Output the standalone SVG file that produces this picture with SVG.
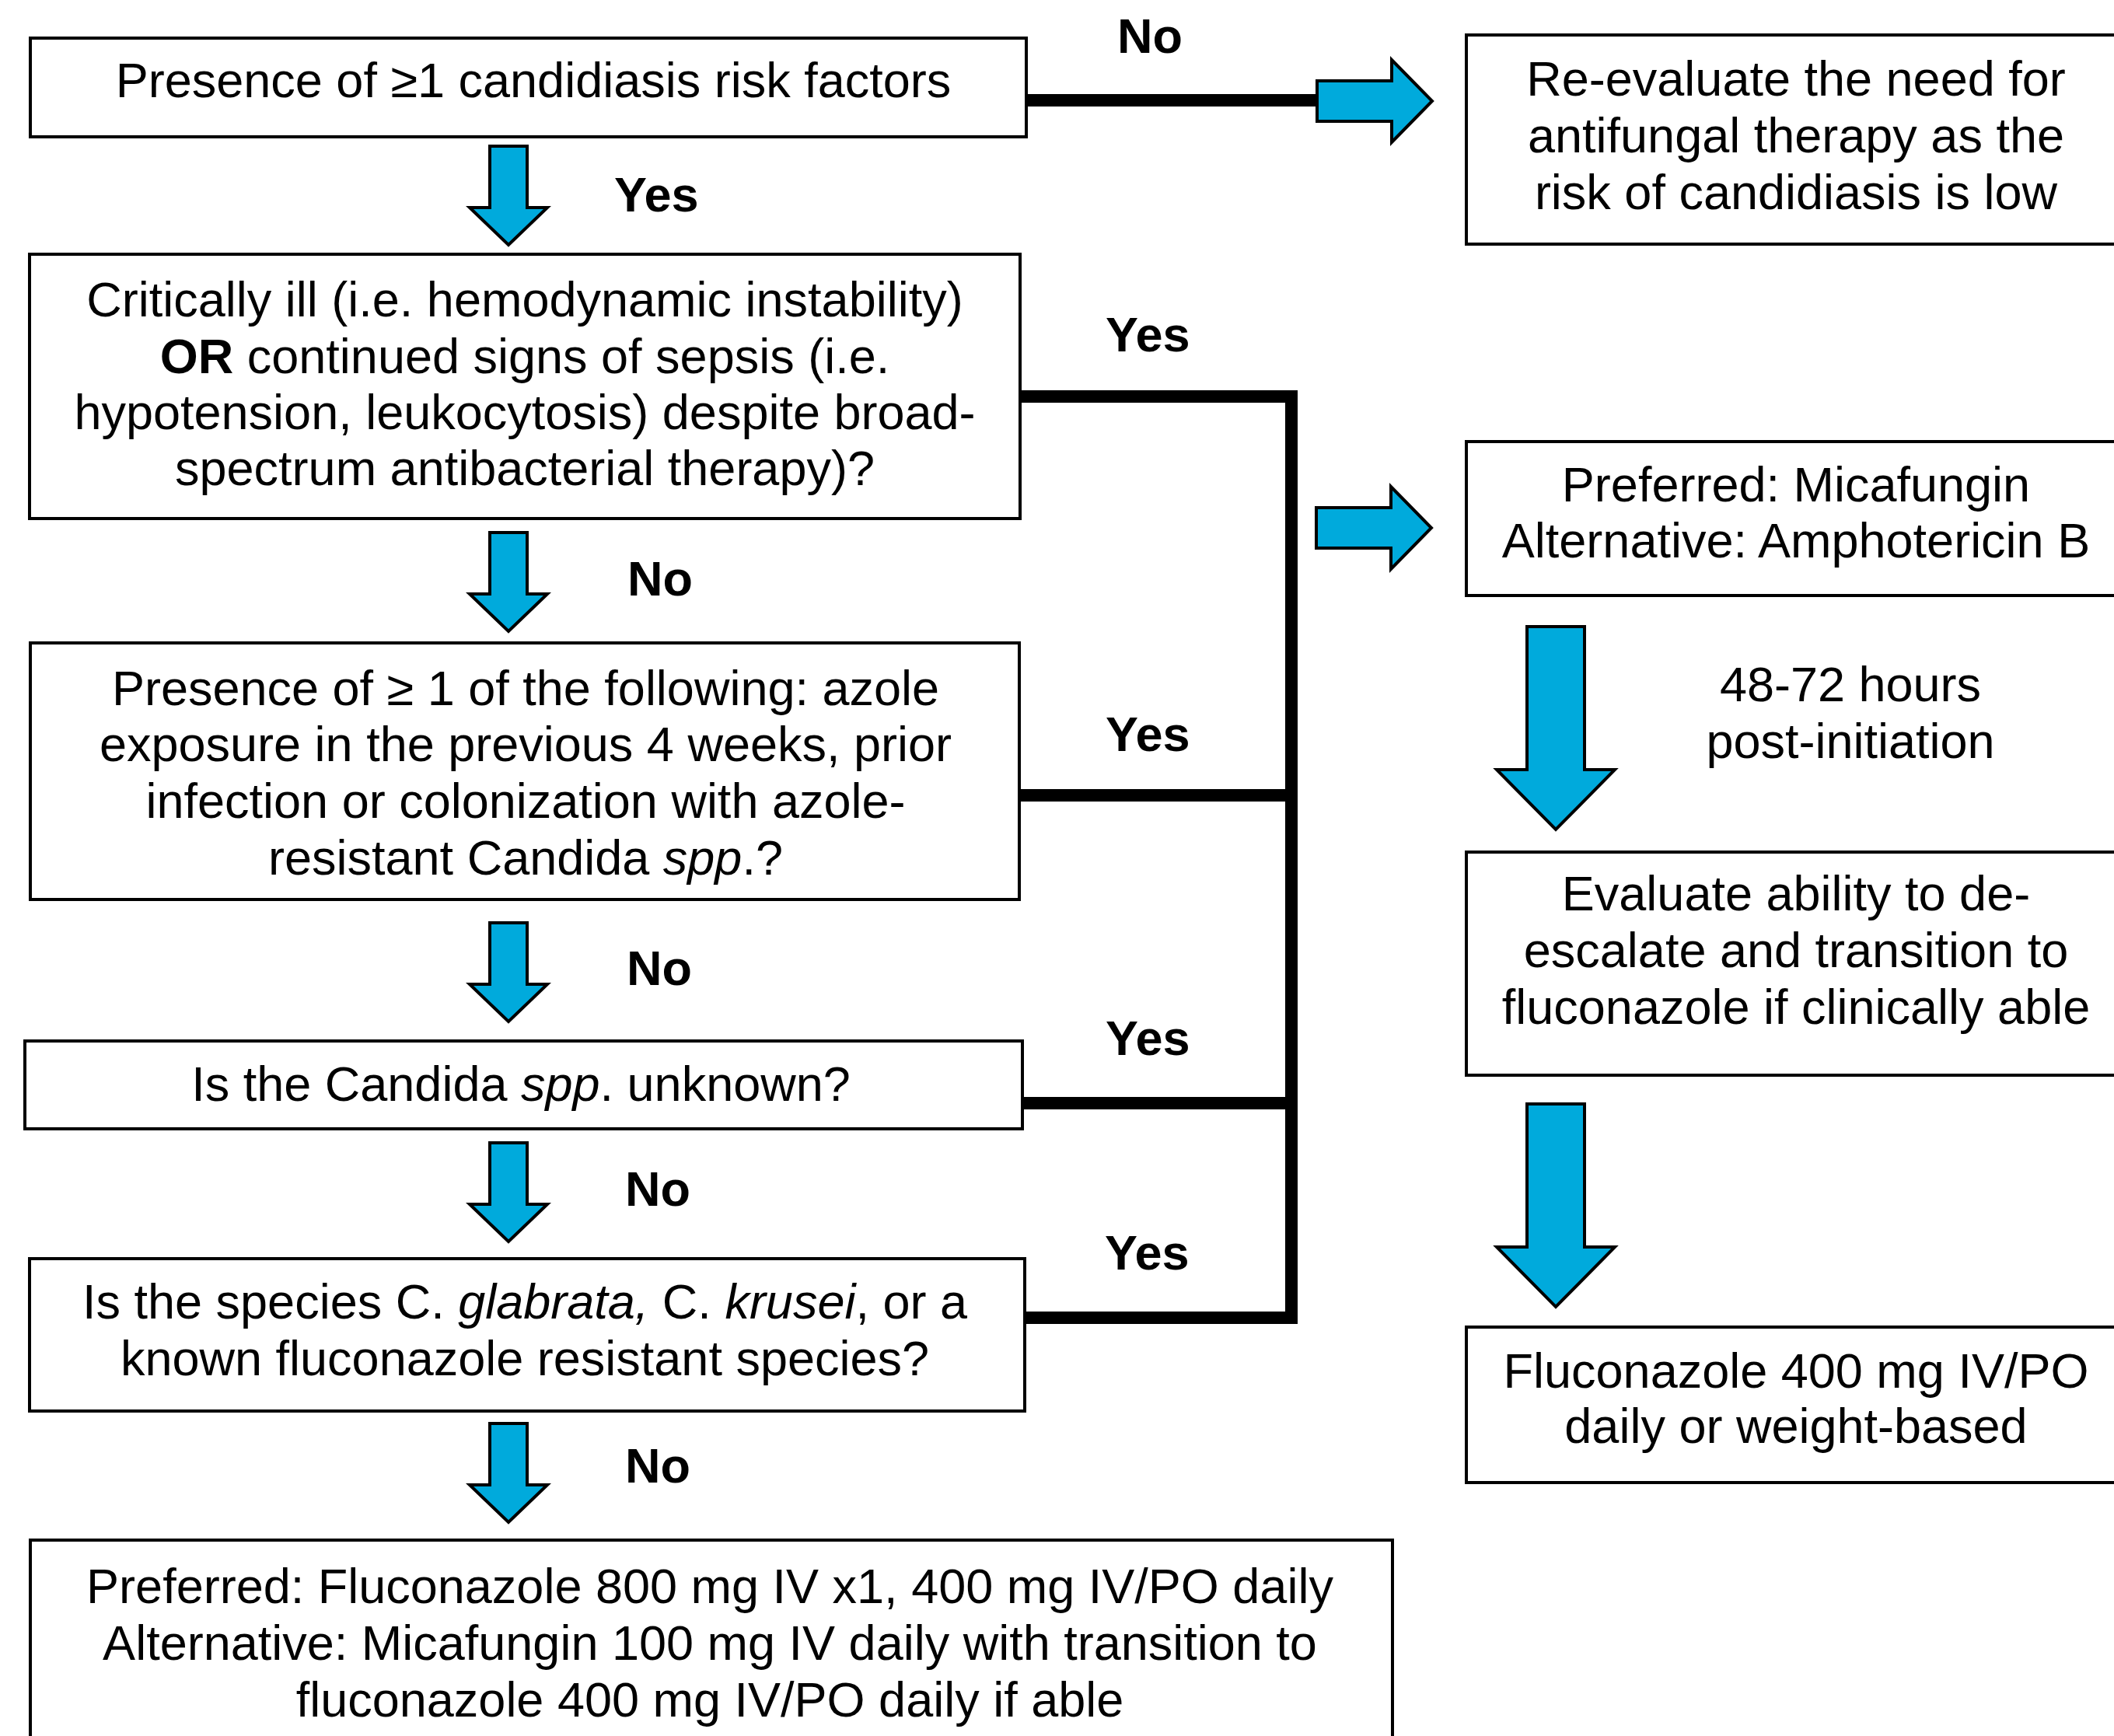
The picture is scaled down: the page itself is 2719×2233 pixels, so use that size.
<svg xmlns="http://www.w3.org/2000/svg" width="2719" height="2233" viewBox="0 0 2719 2233">
<defs>
<style>
.box{fill:#fff;stroke:#000;stroke-width:4}
.t{font-family:"Liberation Sans",Arial,sans-serif;font-size:63px;fill:#000;text-anchor:middle}
.lbl{font-family:"Liberation Sans",Arial,sans-serif;font-size:63px;font-weight:bold;fill:#000}
.ln{stroke:#000;stroke-width:16;fill:none}
.arr{fill:#00AADC;stroke:#000;stroke-width:4;stroke-linejoin:miter}
.sh{fill:#444}
i{font-style:italic}
</style>
<path id="dsm" d="M-24,0 H24 V79 H50 L0,127 L-50,79 H-24 Z"/>
<path id="dbg" d="M-37,0 H37 V184 H76 L0,261 L-76,184 H-37 Z"/>
<path id="rgt" d="M0,-26 H96 V-53 L148,0 L96,53 V26 H0 Z"/>
</defs>
<rect width="2719" height="2233" fill="#fff"/>

<g id="connectors">
<line class="ln" x1="1320" y1="129" x2="1695" y2="129"/>
<line class="ln" x1="1661" y1="502" x2="1661" y2="1703"/>
<line class="ln" x1="1313" y1="510" x2="1669" y2="510"/>
<line class="ln" x1="1313" y1="1023" x2="1661" y2="1023"/>
<line class="ln" x1="1315" y1="1419" x2="1661" y2="1419"/>
<line class="ln" x1="1318" y1="1695" x2="1669" y2="1695"/>

<use href="#dsm" class="sh" transform="translate(652,186)"/>
<use href="#dsm" class="arr" transform="translate(654,188)"/>
<use href="#dsm" class="sh" transform="translate(652,683)"/>
<use href="#dsm" class="arr" transform="translate(654,685)"/>
<use href="#dsm" class="sh" transform="translate(652,1185)"/>
<use href="#dsm" class="arr" transform="translate(654,1187)"/>
<use href="#dsm" class="sh" transform="translate(652,1468)"/>
<use href="#dsm" class="arr" transform="translate(654,1470)"/>
<use href="#dsm" class="sh" transform="translate(652,1829)"/>
<use href="#dsm" class="arr" transform="translate(654,1831)"/>

<use href="#dbg" class="sh" transform="translate(1999,804)"/>
<use href="#dbg" class="arr" transform="translate(2001,806)"/>
<use href="#dbg" class="sh" transform="translate(1999,1418)"/>
<use href="#dbg" class="arr" transform="translate(2001,1420)"/>

<use href="#rgt" class="sh" transform="translate(1692,128)"/>
<use href="#rgt" class="arr" transform="translate(1694,130)"/>
<use href="#rgt" class="sh" transform="translate(1691,677)"/>
<use href="#rgt" class="arr" transform="translate(1693,679)"/>

<text class="lbl" x="1437" y="68">No</text>
<text class="lbl" x="790" y="272">Yes</text>
<text class="lbl" x="1422" y="452">Yes</text>
<text class="lbl" x="807" y="766">No</text>
<text class="lbl" x="1422" y="966">Yes</text>
<text class="lbl" x="806" y="1267">No</text>
<text class="lbl" x="1422" y="1357">Yes</text>
<text class="lbl" x="804" y="1551">No</text>
<text class="lbl" x="1421" y="1633">Yes</text>
<text class="lbl" x="804" y="1907">No</text>
<text class="t" x="2380" y="902">48-72 hours</text>
<text class="t" x="2380" y="975">post-initiation</text>
</g>

<g id="n1">
<rect class="box" x="39" y="49" width="1281" height="127"/>
<text class="t" x="686" y="125">Presence of ≥1 candidiasis risk factors</text>
</g>

<g id="n2">
<rect class="box" x="1886" y="45" width="850" height="269"/>
<text class="t" x="2310" y="123">Re-evaluate the need for</text>
<text class="t" x="2310" y="196">antifungal therapy as the</text>
<text class="t" x="2310" y="269">risk of candidiasis is low</text>
</g>

<g id="n3">
<rect class="box" x="38" y="327" width="1274" height="340"/>
<text class="t" x="675" y="407">Critically ill (i.e. hemodynamic instability)</text>
<text class="t" x="675" y="480"><tspan font-weight="bold">OR</tspan> continued signs of sepsis (i.e.</text>
<text class="t" x="675" y="552">hypotension, leukocytosis) despite broad-</text>
<text class="t" x="675" y="624">spectrum antibacterial therapy)?</text>
</g>

<g id="n4">
<rect class="box" x="1886" y="568" width="850" height="198"/>
<text class="t" x="2310" y="645">Preferred: Micafungin</text>
<text class="t" x="2310" y="717">Alternative: Amphotericin B</text>
</g>

<g id="n5">
<rect class="box" x="39" y="827" width="1272" height="330"/>
<text class="t" x="676" y="907">Presence of ≥ 1 of the following: azole</text>
<text class="t" x="676" y="979">exposure in the previous 4 weeks, prior</text>
<text class="t" x="676" y="1052">infection or colonization with azole-</text>
<text class="t" x="676" y="1125">resistant Candida <tspan font-style="italic">spp</tspan>.?</text>
</g>

<g id="n6">
<rect class="box" x="1886" y="1096" width="850" height="287"/>
<text class="t" x="2310" y="1171">Evaluate ability to de-</text>
<text class="t" x="2310" y="1244">escalate and transition to</text>
<text class="t" x="2310" y="1317">fluconazole if clinically able</text>
</g>

<g id="n7">
<rect class="box" x="32" y="1339" width="1283" height="113"/>
<text class="t" x="670" y="1416">Is the Candida <tspan font-style="italic">spp</tspan>. unknown?</text>
</g>

<g id="n8">
<rect class="box" x="38" y="1619" width="1280" height="196"/>
<text class="t" x="675" y="1696">Is the species C. <tspan font-style="italic">glabrata,</tspan> C. <tspan font-style="italic">krusei</tspan>, or a</text>
<text class="t" x="675" y="1769">known fluconazole resistant species?</text>
</g>

<g id="n9">
<rect class="box" x="1886" y="1707" width="850" height="200"/>
<text class="t" x="2310" y="1785">Fluconazole 400 mg IV/PO</text>
<text class="t" x="2310" y="1856">daily or weight-based</text>
</g>

<g id="n10">
<rect class="box" x="39" y="1981" width="1752" height="270"/>
<text class="t" x="913" y="2062">Preferred: Fluconazole 800 mg IV x1, 400 mg IV/PO daily</text>
<text class="t" x="913" y="2135">Alternative: Micafungin 100 mg IV daily with transition to</text>
<text class="t" x="913" y="2208">fluconazole 400 mg IV/PO daily if able</text>
</g>
</svg>
